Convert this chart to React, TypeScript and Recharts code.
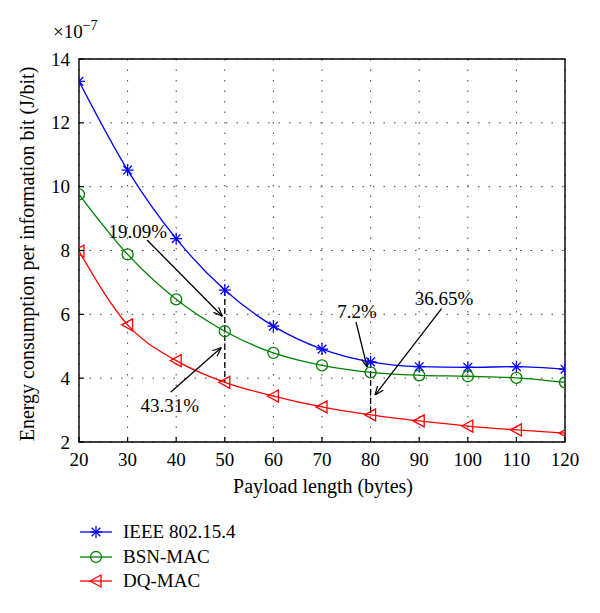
import React from "react";
import {
  LineChart,
  Line,
  XAxis,
  YAxis,
  CartesianGrid,
  ReferenceLine,
  ReferenceDot,
  ReferenceArea,
} from "recharts";

// payload length (bytes)
const payload = [20, 30, 40, 50, 60, 70, 80, 90, 100, 110, 120];
// energy per information bit, in units of 1e-7 J/bit
const ieee = [13.3, 10.52, 8.37, 6.76, 5.63, 4.91, 4.51, 4.36, 4.34, 4.36, 4.28];
const bsn = [9.76, 7.88, 6.47, 5.47, 4.79, 4.4, 4.18, 4.09, 4.06, 4.01, 3.87];
const dq = [7.98, 5.67, 4.55, 3.87, 3.44, 3.1, 2.85, 2.66, 2.5, 2.38, 2.28];

const xTicks = [20, 30, 40, 50, 60, 70, 80, 90, 100, 110, 120];
const yTicks = [2, 4, 6, 8, 10, 12, 14];

// annotation arrows (tail -> head) and their labels
const arrow1909 = [
  { len: 34, v: 8.33 },
  { len: 49.5, v: 5.94 },
];
const arrow4331 = [
  { len: 38.9, v: 3.57 },
  { len: 49.3, v: 4.96 },
];
const arrow72 = [
  { len: 77, v: 5.76 },
  { len: 79.3, v: 4.34 },
];
const arrow3665 = [
  { len: 94.6, v: 6.18 },
  { len: 80.9, v: 3.47 },
];
const notes = [
  { text: "19.09%", len: 32.1, v: 8.6 },
  { text: "43.31%", len: 38.7, v: 3.16 },
  { text: "7.2%", len: 77.2, v: 6.1 },
  { text: "36.65%", len: 95.1, v: 6.51 },
];

const rows = payload.map((p, i) => ({
  len: p,
  ieee: ieee[i],
  bsn: bsn[i],
  dq: dq[i],
}));

const FONT = "'Liberation Serif', 'DejaVu Serif', serif";
const FS = 19;
const BLUE = "#0000ff";
const GREEN = "#008000";
const RED = "#ff0000";

function StarDot(props: any) {
  const { cx, cy, index } = props;
  const r = 6;
  const d = r * 0.72;
  return (
    <g key={"s" + index} stroke={BLUE} strokeWidth={1.3}>
      <line x1={cx - r} y1={cy} x2={cx + r} y2={cy} />
      <line x1={cx} y1={cy - r} x2={cx} y2={cy + r} />
      <line x1={cx - d} y1={cy - d} x2={cx + d} y2={cy + d} />
      <line x1={cx - d} y1={cy + d} x2={cx + d} y2={cy - d} />
    </g>
  );
}

function CircleDot(props: any) {
  const { cx, cy, index } = props;
  return (
    <circle key={"c" + index} cx={cx} cy={cy} r={5.5} fill="none" stroke={GREEN} strokeWidth={1.3} />
  );
}

function TriDot(props: any) {
  const { cx, cy, index } = props;
  const pts = `${cx - 6},${cy} ${cx + 5},${cy - 6} ${cx + 5},${cy + 6}`;
  return (
    <polygon key={"t" + index} points={pts} fill="none" stroke={RED} strokeWidth={1.3} />
  );
}

const X_GAP = 10;
const Y_GAP = 9;

// bottom tick: label plus a short inward tick mark
function XTick(props: any) {
  const { x, y, payload: p } = props;
  const axisY = y - X_GAP;
  return (
    <g>
      <line x1={x} y1={axisY} x2={x} y2={axisY - 5} stroke="#000" strokeWidth={1.2} />
      <text x={x} y={y} dy="0.72em" textAnchor="middle" fontFamily={FONT} fontSize={FS} fill="#000">
        {p.value}
      </text>
    </g>
  );
}

function YTick(props: any) {
  const { x, y, payload: p } = props;
  const axisX = x + Y_GAP;
  return (
    <g>
      <line x1={axisX} y1={y} x2={axisX + 5} y2={y} stroke="#000" strokeWidth={1.2} />
      <text x={x} y={y} dy="0.35em" textAnchor="end" fontFamily={FONT} fontSize={FS} fill="#000">
        {p.value}
      </text>
    </g>
  );
}

const legendItems = [
  { name: "IEEE 802.15.4", color: BLUE, Dot: StarDot },
  { name: "BSN-MAC", color: GREEN, Dot: CircleDot },
  { name: "DQ-MAC", color: RED, Dot: TriDot },
];

export default function App() {
  return (
    <div style={{ width: 600, fontFamily: FONT }}>
      <LineChart
        width={584}
        height={495}
        data={rows}
        margin={{ top: 51, right: 27, left: 11, bottom: 31 }}
      >
        <defs>
          <marker
            id="arrowHead"
            viewBox="0 0 10 10"
            refX="10"
            refY="5"
            markerWidth="9"
            markerHeight="9"
            orient="auto"
            markerUnits="userSpaceOnUse"
          >
            <path d="M0,1 L10,5 L0,9" fill="none" stroke="#000" strokeWidth={1.3} />
          </marker>
        </defs>
        <CartesianGrid
          stroke="#444"
          strokeDasharray="1.5 9"
          horizontalValues={yTicks}
          verticalValues={xTicks}
        />
        <XAxis
          dataKey="len"
          type="number"
          domain={[20, 120]}
          ticks={xTicks}
          tickSize={0}
          tickMargin={X_GAP}
          tickLine={false}
          axisLine={false}
          height={30}
          tick={XTick}
          interval={0}
          allowDataOverflow
        />
        <YAxis
          type="number"
          domain={[2, 14]}
          ticks={yTicks}
          tickSize={0}
          tickMargin={Y_GAP}
          tickLine={false}
          axisLine={false}
          width={60}
          tick={YTick}
          interval={0}
          allowDataOverflow
        />

        <ReferenceArea
          x1={20}
          x2={120}
          y1={2}
          y2={14}
          fill="none"
          fillOpacity={0}
          stroke="#000"
          strokeWidth={1.4}
          ifOverflow="visible"
        />

        <ReferenceLine
          segment={[
            { x: 50, y: ieee[3] },
            { x: 50, y: dq[3] },
          ]}
          stroke="#000"
          strokeWidth={1.3}
          strokeDasharray="6 3"
        />
        <ReferenceLine
          segment={[
            { x: 80, y: ieee[6] },
            { x: 80, y: dq[6] },
          ]}
          stroke="#000"
          strokeWidth={1.3}
          strokeDasharray="6 3"
        />

        <Line
          dataKey="ieee"
          type="monotone"
          stroke={BLUE}
          strokeWidth={1.3}
          dot={StarDot}
          activeDot={false}
          isAnimationActive={false}
        />
        <Line
          dataKey="bsn"
          type="monotone"
          stroke={GREEN}
          strokeWidth={1.3}
          dot={CircleDot}
          activeDot={false}
          isAnimationActive={false}
        />
        <Line
          dataKey="dq"
          type="monotone"
          stroke={RED}
          strokeWidth={1.3}
          dot={TriDot}
          activeDot={false}
          isAnimationActive={false}
        />

        {[arrow1909, arrow4331, arrow72, arrow3665].map((a, i) => (
          <Line
            key={"arrow" + i}
            data={a}
            dataKey="v"
            type="linear"
            stroke="#000"
            strokeWidth={1.3}
            dot={false}
            activeDot={false}
            markerEnd="url(#arrowHead)"
            isAnimationActive={false}
          />
        ))}

        {notes.map((n) => (
          <ReferenceDot
            key={n.text}
            x={n.len}
            y={n.v}
            r={0}
            fill="none"
            stroke="none"
            label={{ value: n.text, position: "center", fill: "#000", fontFamily: FONT, fontSize: FS }}
          />
        ))}

        <text x={45} y={30} fontFamily={FONT} fontSize={FS} fill="#000">
          ×10
          <tspan dy={-8} fontSize={14}>
            −7
          </tspan>
        </text>
        <text
          transform="translate(26, 246) rotate(-90)"
          textAnchor="middle"
          fontFamily={FONT}
          fontSize={20}
          fill="#000"
        >
          Energy consumption per information bit (J/bit)
        </text>
        <text x={315} y={485} textAnchor="middle" fontFamily={FONT} fontSize={20} fill="#000">
          Payload length (bytes)
        </text>
      </LineChart>
      <div style={{ marginTop: 17, paddingLeft: 72 }}>
        {legendItems.map((it) => (
          <div key={it.name} style={{ display: "flex", alignItems: "center", height: 24.5 }}>
            <svg width={40} height={20}>
              <line x1={0} y1={10} x2={32} y2={10} stroke={it.color} strokeWidth={1.3} />
              <it.Dot cx={16} cy={10} index={0} />
            </svg>
            <span style={{ fontSize: FS, color: "#000", marginLeft: 3 }}>{it.name}</span>
          </div>
        ))}
      </div>
    </div>
  );
}
